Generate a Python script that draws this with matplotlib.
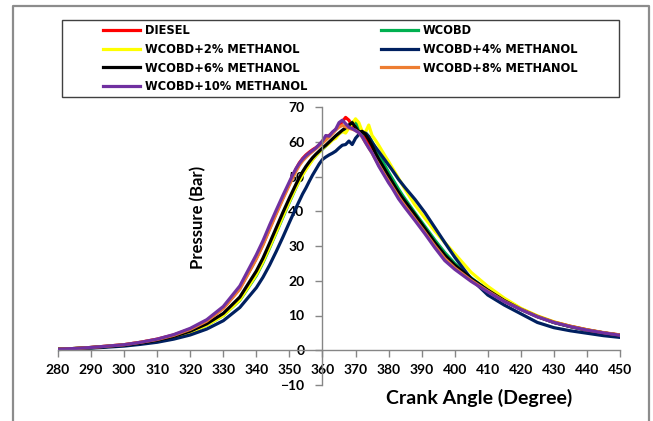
#!/usr/bin/env python3

import numpy as np
import matplotlib
matplotlib.use("Agg")
import matplotlib.pyplot as plt
from matplotlib.lines import Line2D
from matplotlib.patches import Rectangle

# Crank angle grid (degree)
angle = ([280, 285, 290, 295, 300, 305, 310, 315, 320, 325, 330, 335, 340,
          342, 344, 346, 348, 350]
         + list(range(351, 386))
         + [388, 391, 394, 397, 400, 405, 410, 415, 420, 425, 430, 435, 440, 445, 450])

diesel = [0.3, 0.5, 0.8, 1.2, 1.6, 2.3, 3.2, 4.4, 6.1, 8.5, 12.1, 17.8, 26.5,
          30.5, 35.0, 39.5, 43.8, 48.0,
          50.2, 52.2, 53.9, 55.2, 56.2, 57.0, 57.7, 58.3, 59.0, 60.2, 61.2, 61.8, 62.6, 63.5,
          64.6, 65.8, 67.0, 66.2, 64.5, 64.0, 63.3, 62.3, 61.0, 59.5, 57.9, 56.1, 54.3, 52.6,
          50.9, 49.3, 47.7, 46.2, 44.7, 43.3, 42.0,
          38.3, 34.5, 30.7, 27.2, 24.3, 20.5, 17.2, 14.3, 11.9, 9.8, 8.1, 6.9, 5.9, 5.0, 4.4]

wcobd = [0.3, 0.5, 0.7, 1.1, 1.5, 2.0, 2.8, 3.8, 5.2, 7.2, 10.0, 14.4, 21.5,
         25.2, 29.4, 33.8, 38.2, 42.6,
         44.7, 46.8, 48.8, 50.6, 52.2, 53.6, 54.9, 56.0, 57.0, 57.9, 58.8, 59.7, 60.6, 61.5,
         62.3, 63.0, 63.8, 64.6, 65.6, 66.0, 64.0, 62.2, 62.6, 61.5, 60.0, 58.2, 56.4, 54.6,
         52.9, 51.2, 49.6, 48.0, 46.4, 44.9, 43.5,
         39.5, 35.6, 31.7, 28.1, 25.0, 20.8, 17.3, 14.3, 11.8, 9.7, 8.0, 6.8, 5.8, 5.0, 4.3]

m2 = [0.3, 0.5, 0.7, 1.1, 1.5, 2.0, 2.8, 3.8, 5.2, 7.2, 10.0, 14.5, 21.8,
      25.5, 29.7, 34.0, 38.5, 42.8,
      44.9, 46.9, 48.8, 50.5, 52.0, 53.4, 54.8, 56.0, 57.0, 58.0, 58.8, 59.5, 60.5, 61.0,
      62.2, 63.0, 62.5, 64.0, 65.2, 66.6, 65.5, 63.0, 62.8, 64.8, 61.8, 60.5, 59.0, 57.4,
      55.8, 54.3, 52.7, 51.1, 49.5, 47.9, 46.3,
      41.8, 38.0, 34.3, 31.0, 27.8, 22.4, 18.4, 15.0, 12.1, 9.9, 8.2, 6.9, 5.9, 5.0, 4.3]

m4 = [0.2, 0.4, 0.6, 0.9, 1.2, 1.7, 2.3, 3.2, 4.4, 6.1, 8.5, 12.3, 18.0,
      21.0, 24.5, 28.4, 32.5, 36.8,
      38.9, 41.0, 43.0, 45.0, 46.7, 48.6, 50.4, 52.0, 53.6, 54.9, 55.6, 56.2, 56.7, 57.3,
      58.2, 59.0, 59.2, 60.2, 59.2, 61.0, 62.1, 62.6, 62.5, 61.5, 59.8, 58.5, 57.2, 55.9,
      54.6, 53.3, 52.0, 50.6, 49.2, 48.0, 46.8,
      43.4, 39.6, 35.3, 31.0, 26.8, 20.5, 15.9, 13.0, 10.5, 8.0, 6.5, 5.6, 4.9, 4.2, 3.7]

m6 = [0.3, 0.5, 0.8, 1.1, 1.5, 2.1, 2.9, 4.0, 5.5, 7.6, 10.6, 15.3, 22.8,
      26.5, 30.8, 35.2, 39.6, 43.8,
      45.8, 47.8, 49.7, 51.4, 52.9, 54.2, 55.4, 56.4, 57.3, 58.2, 59.0, 59.9, 60.8, 61.7,
      62.5, 63.3, 64.0, 64.8, 65.5, 64.2, 62.8, 63.0, 62.1, 60.6, 58.9, 56.8, 55.0, 53.4,
      51.8, 50.2, 48.6, 47.0, 45.5, 44.1, 42.8,
      39.0, 35.0, 31.0, 27.4, 24.5, 20.6, 17.3, 14.3, 11.8, 9.7, 8.0, 6.8, 5.8, 5.0, 4.3]

m8 = [0.3, 0.5, 0.8, 1.2, 1.6, 2.3, 3.1, 4.3, 6.0, 8.4, 12.0, 17.6, 26.3,
      30.3, 34.8, 39.2, 43.5, 47.6,
      49.6, 51.5, 53.2, 54.5, 55.5, 56.4, 57.2, 58.0, 58.8, 59.6, 60.5, 61.4, 62.3, 63.4,
      64.2, 64.7, 64.3, 63.9, 63.6, 63.3, 62.6, 61.4, 59.8, 58.3, 56.7, 55.0, 53.4, 51.8,
      50.2, 48.7, 47.2, 45.7, 44.2, 42.8, 41.5,
      37.7, 33.9, 30.0, 26.4, 23.7, 20.1, 17.0, 14.1, 11.8, 9.7, 8.1, 6.9, 5.9, 5.1, 4.4]

m10 = [0.3, 0.5, 0.8, 1.2, 1.6, 2.3, 3.2, 4.5, 6.3, 8.8, 12.6, 18.5, 27.5,
       31.5, 36.0, 40.3, 44.5, 48.5,
       50.5, 52.3, 53.8, 55.0, 56.0, 56.8, 57.5, 58.2, 59.2, 60.2, 61.8, 61.6, 62.8, 63.6,
       65.5, 66.2, 65.2, 64.2, 63.8, 63.2, 62.6, 61.5, 59.8, 58.2, 56.8, 54.9, 53.0, 51.4,
       49.8, 48.2, 46.8, 45.2, 43.6, 42.3, 41.0,
       37.3, 33.5, 29.5, 25.8, 23.3, 19.8, 16.8, 14.0, 11.7, 9.6, 8.0, 6.8, 5.8, 5.0, 4.3]

labels = ["DIESEL", "WCOBD", "WCOBD+2% METHANOL", "WCOBD+4% METHANOL",
          "WCOBD+6% METHANOL", "WCOBD+8% METHANOL", "WCOBD+10% METHANOL"]
colors = ["#FF0000", "#00B050", "#FFFF00", "#002060", "#000000", "#ED7D31", "#7030A0"]
series = [diesel, wcobd, m2, m4, m6, m8, m10]

xticks = np.arange(280, 451, 10)
yticks = np.arange(-10, 71, 10)

W, H = 653, 421
fig = plt.figure(figsize=(W / 100, H / 100), dpi=100)
ax = fig.add_axes([58 / W, 1 - 385 / H, 562 / W, 278 / H])

handles = []
for y, c, lab in zip(series, colors, labels):
	h, = ax.plot(angle, y, color=c, lw=2.3, label=lab, solid_joinstyle="round")
	handles.append(h)

ax.set_xlim(280, 450)
ax.set_ylim(-10, 70)
ax.set_xticks(xticks)
ax.set_yticks(yticks)

# Excel style axes crossing at 360 deg / 0 bar
ax.spines["left"].set_position(("data", 360))
ax.spines["bottom"].set_position(("data", 0))
ax.spines["top"].set_visible(False)
ax.spines["right"].set_visible(False)
for s in ("left", "bottom"):
	ax.spines[s].set_color("#868686")
	ax.spines[s].set_linewidth(1.0)
ax.tick_params(axis="both", colors="#868686", length=5, width=1.0, labelcolor="black")
ax.tick_params(axis="y", pad=8)
ax.tick_params(axis="x", pad=5)
for t in ax.get_xticklabels() + ax.get_yticklabels():
	t.set_fontfamily("Lato")
	t.set_fontweight("bold")
	t.set_fontsize(10)

ax.set_ylabel("Pressure (Bar)", family="Lato", fontweight="bold", fontsize=12, va="center")
ax.yaxis.set_label_coords(0.249, 0.604)
ax.set_xlabel("Crank Angle (Degree)", family="Lato", fontweight="bold", fontsize=14, va="center")
ax.xaxis.set_label_coords(0.749, -0.047)

# legend (row-wise order as in the reference)
order = [0, 2, 4, 6, 1, 3, 5]
leg = fig.legend([handles[i] for i in order], [labels[i] for i in order],
                 loc="upper left", bbox_to_anchor=(103 / W, 1 - 24 / H), ncol=2,
                 frameon=False, borderpad=0, borderaxespad=0,
                 handlelength=3.2, handletextpad=0.43, columnspacing=6.4,
                 labelspacing=0.5, prop={"family": "DejaVu Sans", "weight": "bold", "size": 8.3})
for l in leg.get_lines():
	l.set_linewidth(2.3)

fig.patches.append(Rectangle((62 / W, 1 - 97 / H), 557 / W, 77 / H, transform=fig.transFigure,
                             fill=False, ec="#404040", lw=1.0))
fig.lines.append(Line2D([13 / W, 13 / W, 649 / W, 649 / W], [0, 1 - 6 / H, 1 - 6 / H, 0],
                        transform=fig.transFigure, color="#8C8C8C", lw=1.6))

fig.savefig("out.png", dpi=100)
